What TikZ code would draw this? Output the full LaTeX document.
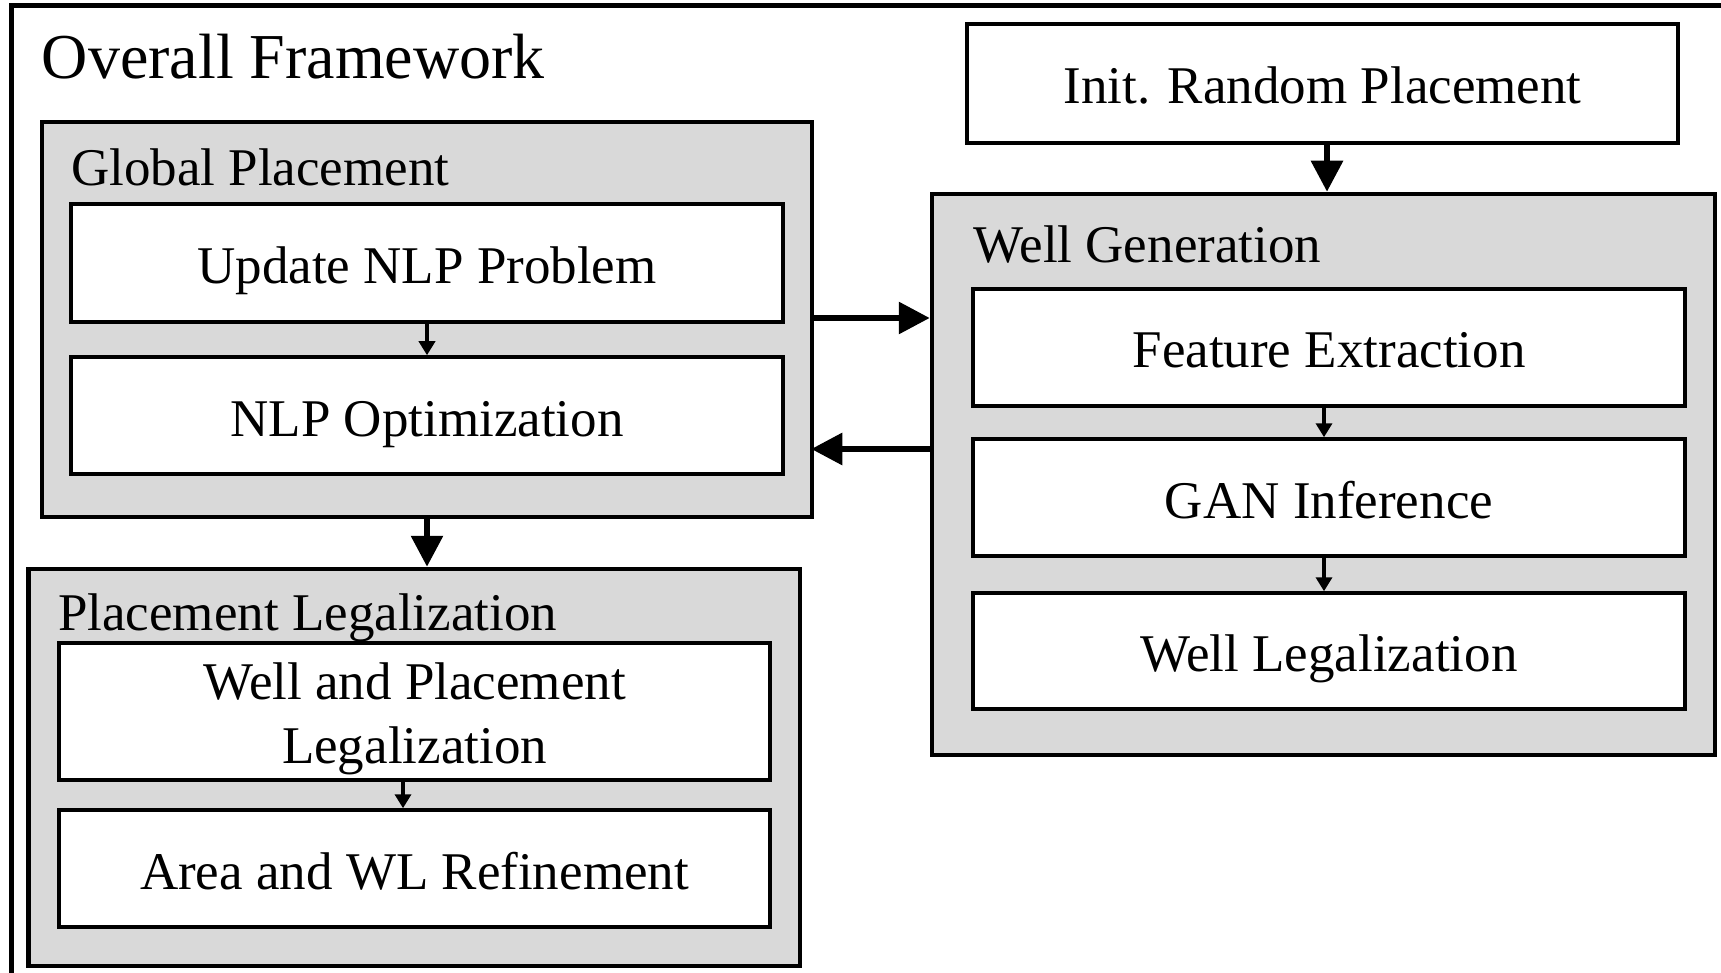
\documentclass[tikz,border=0pt]{standalone}
\usepackage{fontspec}
\setmainfont{Liberation Serif}
\usetikzlibrary{arrows.meta}
\definecolor{groupgray}{HTML}{D9D9D9}
\tikzset{
  group/.style={draw=black, line width=4.5pt, fill=groupgray, inner sep=0pt},
  stepbox/.style={draw=black, line width=3.5pt, fill=white, inner sep=0pt, align=center,
    text height=41pt, text depth=0pt, font=\fontsize{53}{64}\selectfont},
  steptext/.style={inner sep=0pt, align=center, font=\fontsize{53}{64}\selectfont},
  grouptitle/.style={anchor=base west, inner sep=0pt, font=\fontsize{53}{64}\selectfont},
  bigarrow/.style={line width=6pt, -{Triangle[length=31pt,width=31pt]}},
  smallarrow/.style={line width=4pt, -{Triangle[length=14pt,width=16pt]}},
}
\begin{document}
\begin{tikzpicture}[x=1pt,y=-1pt]
\useasboundingbox (0,0) rectangle (1721,973);
\clip (0,0) rectangle (1721,973);

% outer frame, running past the right and bottom edges
\draw[line width=5pt] (11.5,5.5) rectangle (1740,990);
\node[anchor=base west, inner sep=0pt, font=\fontsize{64}{72}\selectfont] (title) at (41.7,79) {Overall Framework};

% global placement
\node[group, minimum width=770pt, minimum height=395pt] (gp) at (427,319.5) {};
\node[grouptitle] (gpt) at (71,185.5) {Global Placement};
\node[stepbox, minimum width=712pt, minimum height=118pt] (upd) at (427,263) {Update NLP Problem};
\node[stepbox, minimum width=712pt, minimum height=117pt] (opt) at (427,415.5) {NLP Optimization};
\draw[smallarrow] (upd.south) -- (opt.north);

% placement legalization
\node[group, minimum width=771.5pt, minimum height=397pt] (pl) at (414,767.5) {};
\node[grouptitle] (plt) at (58,630) {Placement Legalization};
\node[stepbox, minimum width=711pt, minimum height=137pt] (wpl) at (414.5,711.5) {};
\node[steptext, yshift=-7.5pt] (wpltext) at (wpl.center) {Well and Placement\\ Legalization};
\node[stepbox, minimum width=711pt, minimum height=117pt] (awr) at (414.5,868.5) {Area and WL Refinement};
\coordinate (plx) at (403,0);
\draw[smallarrow] (wpl.south -| plx) -- (awr.north -| plx);

% initial placement
\node[stepbox, minimum width=711pt, minimum height=119pt] (init) at (1322.5,83.5) {Init. Random Placement};

% well generation
\node[group, minimum width=783pt, minimum height=561pt] (wg) at (1323.5,474.5) {};
\node[grouptitle] (wgt) at (973.5,263) {Well Generation};
\node[stepbox, minimum width=712pt, minimum height=117pt] (fe) at (1329,347.5) {Feature Extraction};
\node[stepbox, minimum width=712pt, minimum height=117pt] (gan) at (1329,497.5) {GAN Inference};
\node[stepbox, minimum width=712pt, minimum height=116pt] (wl) at (1329,651) {Well Legalization};
\coordinate (wgx) at (1324,0);
\draw[smallarrow] (fe.south -| wgx) -- (gan.north -| wgx);
\draw[smallarrow] (gan.south -| wgx) -- (wl.north -| wgx);

% connections between stages
\coordinate (a1) at (0,318);
\coordinate (a2) at (0,449);
\coordinate (ix) at (1327,0);
\draw[bigarrow] (init.south -| ix) -- (wg.north -| ix);
\draw[bigarrow] (gp.east |- a1) -- (wg.west |- a1);
\draw[bigarrow, shorten >=-3pt] (wg.west |- a2) -- (gp.east |- a2);
\draw[bigarrow] (gp.south) -- (pl.north -| gp.south);
\end{tikzpicture}
\end{document}
